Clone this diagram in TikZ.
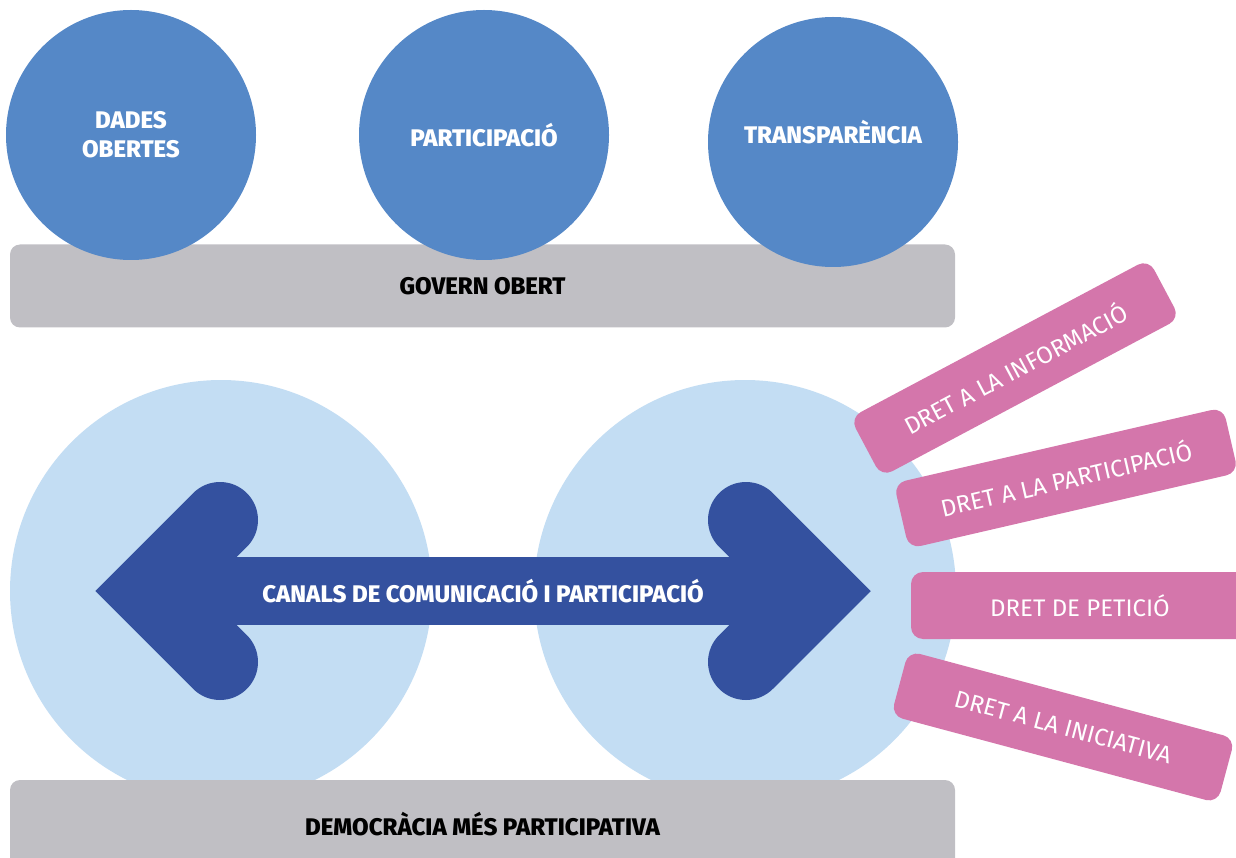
\documentclass[tikz,border=0pt]{standalone}
\usepackage{fontspec}
\setmainfont{Fira Sans}[BoldFont={Fira Sans ExtraBold}]
\definecolor{topblue}{HTML}{5588C7}
\definecolor{paleblue}{HTML}{C3DDF3}
\definecolor{arrowblue}{HTML}{34519F}
\definecolor{bargray}{HTML}{C0BFC4}
\definecolor{rightpink}{HTML}{D476AB}

\begin{document}
\begin{tikzpicture}[x=1pt,y=1pt]
  \tikzstyle{every node}=[font=\fontsize{24}{29}\selectfont,inner sep=0]
  \tikzstyle{boldtext}=[font=\bfseries\fontsize{24}{29}\selectfont]
  \tikzstyle{bar}=[fill=bargray,rounded corners=10,minimum width=945,boldtext,text=black]
  \tikzstyle{topcircle}=[circle,fill=topblue,minimum size=250,boldtext,text=white,align=center]
  \tikzstyle{bigcircle}=[circle,fill=paleblue,minimum size=422]
  \tikzstyle{rightbox}=[fill=rightpink,rounded corners=12,minimum width=338,minimum height=67,text=white]
  \tikzstyle{headline}=[arrowblue,line width=76,line cap=round,line join=miter]

  \useasboundingbox (0,0) rectangle (1236,-858);
  \clip (0,0) rectangle (1236,-858);

  % top row
  \node[bar,minimum height=83] (govern) at (482.5,-286) {GOVERN OBERT};
  \node[topcircle] (dades) at (131,-135) {DADES\\[0pt]OBERTES};
  \node[topcircle] (particip) at (484,-135) {PARTICIPACIÓ};
  \node[topcircle] (transp) at (833,-142) {};
  \node[boldtext,text=white] (transptext) at (833,-132) {TRANSPARÈNCIA};

  % bottom row
  \node[bigcircle] (leftcircle) at (221,-591) {};
  \node[bigcircle] (rightcircle) at (745,-591) {};

  \fill[arrowblue] (149,-557) rectangle (817,-625);
  \draw[headline] (220,-520) -- (149,-591) -- (220,-662);
  \draw[headline] (746,-520) -- (817,-591) -- (746,-662);
  \node[boldtext,text=white] (canals) at (483,-591) {CANALS DE COMUNICACIÓ I PARTICIPACIÓ};

  \node[bar,minimum height=88] (democracia) at (482.5,-824) {DEMOCRÀCIA MÉS PARTICIPATIVA};

  % rights
  \node[rightbox,rotate=28] (informacio) at (1015,-368) {DRET A LA INFORMACIÓ};
  \node[rightbox,rotate=13] (participacio) at (1066,-478) {DRET A LA PARTICIPACIÓ};
  \node[rightbox] (peticio) at (1080,-605.5) {DRET DE PETICIÓ};
  \node[rightbox,rotate=-15] (iniciativa) at (1063,-727) {DRET A LA INICIATIVA};
\end{tikzpicture}
\end{document}
